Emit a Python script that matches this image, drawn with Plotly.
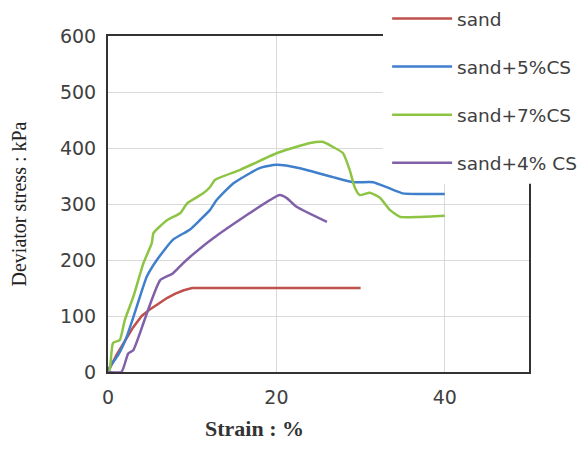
import plotly.graph_objects as go

# ---- data ----
sand_x = [0, 1, 2, 3, 4, 5, 6, 7, 8, 9, 10, 30]
sand_y = [0, 30, 55, 80, 100, 112, 122, 132, 140, 146, 150, 150]

cs5_x = [0, 0.2, 1.2, 2.2, 3.4, 4.6, 5.8, 7.7, 9.7, 10.9, 12.1, 12.9, 14.9, 18, 20, 22.8, 26.7, 29.1, 31.5, 33.1, 35, 37, 40]
cs5_y = [0, 9, 30, 62, 116, 170, 200, 236, 254, 271, 289, 307, 337, 364, 370, 364, 348, 339, 339, 330, 319, 318, 318]

cs7_x = [0, 0.2, 0.6, 1.4, 2, 3, 4.2, 5.2, 5.4, 7, 8.6, 9.4, 11.3, 12.1, 12.7, 15.7, 20.1, 24, 25.5, 26.7, 27.9, 28.7, 29.3, 29.9, 31.1, 32.3, 33.5, 34.7, 37, 40]
cs7_y = [0, 3, 52, 57, 93, 134, 194, 230, 248, 271, 284, 301, 319, 330, 343, 361, 391, 409, 411, 402, 391, 361, 330, 316, 320, 311, 289, 277, 277, 279]

cs4_x = [0, 1.6, 2.4, 3, 4.2, 5.2, 6.2, 7.7, 8.9, 9.7, 12.5, 20.4, 21.2, 22.4, 26]
cs4_y = [0, 0, 33, 39, 87, 129, 164, 176, 194, 205, 239, 316, 311, 295, 268]

names = ["sand", "sand+5%CS", "sand+7%CS", "sand+4% CS"]
colors = ["#C0504D", "#3F7FCB", "#8DC444", "#8060A8"]
shapes_ = ["linear", "spline", "spline", "spline"]
series = [(sand_x, sand_y), (cs5_x, cs5_y), (cs7_x, cs7_y), (cs4_x, cs4_y)]

x_ticks = [0, 20, 40]
y_ticks = [0, 100, 200, 300, 400, 500, 600]

fig = go.Figure()
for i, ((xs, ys), nm, c, sh) in enumerate(zip(series, names, colors, shapes_)):
    fig.add_trace(go.Scatter(x=xs, y=ys, mode="lines", name=nm,
                             line=dict(color=c, width=2.5, shape=sh, smoothing=0.5),
                             legendgroup=str(i)))

tick_font = dict(family="DejaVu Sans", size=19, color="#404040")

fig.update_layout(
    width=582, height=449,
    margin=dict(l=108, r=53, t=36, b=77, autoexpand=False),
    paper_bgcolor="white", plot_bgcolor="white",
    showlegend=True,
    legend=dict(x=0.663, xref="paper", y=1.018, yref="container",
                xanchor="left", yanchor="top",
                bgcolor="white", borderwidth=0, itemwidth=60,
                font=dict(family="DejaVu Sans", size=18.5, color="#404040"),
                tracegroupgap=21, traceorder="grouped"),
    shapes=[dict(type="rect", xref="paper", yref="paper",
                 x0=(383 - 108) / 421, x1=1.2, y0=0.56, y1=1.2,
                 fillcolor="white", line=dict(width=0), layer="above")],
    annotations=[dict(text="<b>Strain : %</b>", xref="paper", yref="paper",
                      x=(254 - 108) / 421, y=(372 - 428) / 336,
                      xanchor="center", yanchor="middle", showarrow=False,
                      font=dict(family="Liberation Serif", size=22, color="#333333"))],
    xaxis=dict(range=[0, 50], tickvals=x_ticks, showgrid=True, gridcolor="#D9D9D9",
               gridwidth=1, zeroline=False, showline=True, linecolor="#333333",
               linewidth=2, mirror=True, ticks="outside", ticklen=7,
               tickcolor="rgba(0,0,0,0)", automargin=False,
               tickfont=tick_font),
    yaxis=dict(range=[0, 600], tickvals=y_ticks, showgrid=True, gridcolor="#D9D9D9",
               gridwidth=1, zeroline=False, showline=True, linecolor="#333333",
               linewidth=2, mirror=True, ticks="outside", ticklen=6,
               tickcolor="rgba(0,0,0,0)", automargin=False,
               tickfont=tick_font,
               title=dict(text="Deviator stress : kPa", standoff=28,
                          font=dict(family="Liberation Serif", size=20, color="#222222"))),
)

fig.write_html("out.html", config={"displayModeBar": False},
               post_script="document.body.style.margin='0px';")
